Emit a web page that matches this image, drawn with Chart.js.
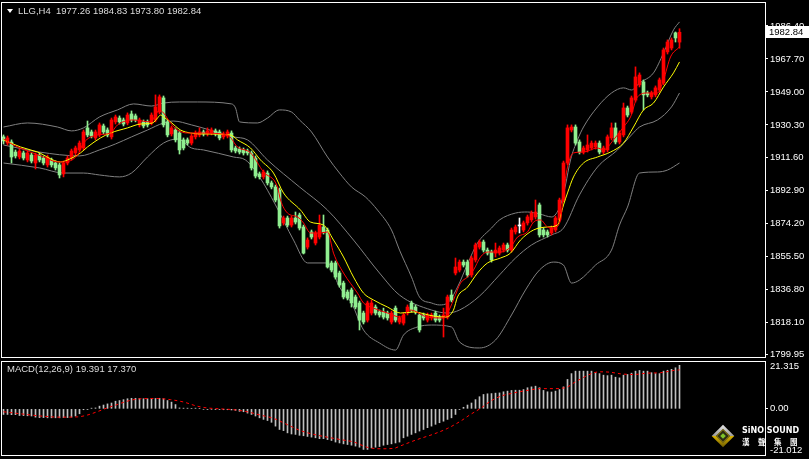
<!DOCTYPE html>
<html>
<head>
<meta charset="utf-8">
<script src="https://cdn.jsdelivr.net/npm/chart.js@4.4.1/dist/chart.umd.min.js"></script>
<style>
  html, body { margin: 0; padding: 0; background: #000; }
  #wrap { position: relative; width: 809px; height: 459px; background: #000; overflow: hidden;
          font-family: "Liberation Sans", Arial, sans-serif; }
  #priceChart { position: absolute; left: 0; top: 0; }
  #macdChart { position: absolute; left: 0; top: 359px; }
  .caption { position: absolute; color: #dcdcdc; font-size: 9.5px; line-height: 12px; white-space: pre; }
  #tri { position: absolute; left: 7px; top: 9px; width: 0; height: 0;
         border-left: 3px solid transparent; border-right: 3px solid transparent; border-top: 4px solid #fff; }
  .dia { position: absolute; transform: rotate(45deg); }
  #diaOuter { left: 715px; top: 428px; width: 16px; height: 16px;
              background: linear-gradient(135deg, #e6e6e6 0%, #9a9a9a 50%, #d9b200 50%, #6b5a00 100%); }
  #diaInner { left: 718px; top: 431px; width: 10px; height: 10px; background: #2b2b12; border: 1px solid #8a7a10; box-sizing: border-box; }
  #diaCore { left: 721px; top: 434px; width: 4px; height: 4px; background: #7fc32a; }
  #brand { position: absolute; left: 742px; top: 426px; color: #fff; font: bold 8px "DejaVu Sans", Arial, sans-serif; }
  #brandCn { position: absolute; left: 742px; top: 436px; color: #fff; font: bold 7.5px "Noto Sans CJK TC", sans-serif; letter-spacing: 8.5px; }
</style>
</head>
<body>
<div id="wrap">
  <canvas id="priceChart" width="809" height="359"></canvas>
  <canvas id="macdChart" width="809" height="100"></canvas>
  <div id="tri"></div>
  <div class="caption" style="left:18px; top:5px;">LLG,H4  1977.26 1984.83 1973.80 1982.84</div>
  <div class="caption" style="left:7px; top:363px;">MACD(12,26,9) 19.391 17.370</div>
  <div id="diaOuter" class="dia"></div>
  <div id="diaInner" class="dia"></div>
  <div id="diaCore" class="dia"></div>
  <div id="brand">SiNO SOUND</div>
  <div id="brandCn">漢聲集團</div>
</div>
<script>
// H4 candles, oldest first
const candleOpen = [
  1923.5, 1920.0, 1920.6, 1914.9, 1912.1, 1914.4, 1910.4, 1913.2, 1908.7, 1913.2,
  1911.5, 1907.6, 1910.4, 1908.7, 1907.6, 1902.5, 1908.7, 1911.5, 1914.4, 1916.1,
  1917.2, 1928.6, 1926.3, 1922.9, 1924.6, 1929.7, 1927.4, 1923.5, 1932.0, 1934.2,
  1933.1, 1931.4, 1936.5, 1935.4, 1930.3, 1932.0, 1932.0, 1931.4, 1933.1, 1937.6,
  1945.6, 1932.0, 1925.2, 1927.4, 1925.7, 1921.8, 1921.8, 1920.0, 1923.5, 1924.6,
  1926.3, 1925.2, 1925.7, 1926.9, 1926.3, 1923.5, 1924.0, 1925.7, 1917.2, 1916.6,
  1916.1, 1915.5, 1914.4, 1911.5, 1902.5, 1900.8, 1903.0, 1897.4, 1895.1, 1893.4,
  1874.7, 1877.5, 1873.5, 1877.5, 1879.2, 1872.4, 1861.0, 1869.6, 1863.3, 1866.7,
  1872.4, 1870.7, 1852.0, 1852.0, 1846.3, 1840.6, 1835.5, 1836.7, 1832.7, 1829.3,
  1823.6, 1819.6, 1823.6, 1827.0, 1824.2, 1824.2, 1823.6, 1818.5, 1826.4, 1818.5,
  1817.9, 1823.6, 1829.3, 1827.0, 1822.5, 1822.5, 1819.6, 1820.8, 1823.6, 1821.3,
  1820.8, 1821.3, 1833.8, 1846.3, 1848.0, 1852.5, 1852.5, 1845.2, 1853.7, 1861.0,
  1863.9, 1859.3, 1858.2, 1857.6, 1857.6, 1859.3, 1862.2, 1859.3, 1869.6, 1873.0,
  1870.7, 1874.7, 1876.4, 1878.1, 1884.9, 1870.7, 1869.6, 1869.0, 1870.7, 1876.4,
  1887.7, 1908.7, 1927.4, 1929.1, 1920.6, 1914.9, 1916.1, 1917.2, 1917.8, 1920.0,
  1914.9, 1916.1, 1922.9, 1928.6, 1920.6, 1924.6, 1939.9, 1937.6, 1944.4, 1953.0,
  1954.7, 1948.4, 1946.2, 1947.3, 1950.1, 1954.1, 1971.7, 1973.9, 1982.5, 1977.26
];
const candleHigh = [
  1924.6, 1924.0, 1921.8, 1916.1, 1916.6, 1915.5, 1915.5, 1914.4, 1914.4, 1914.4,
  1912.7, 1913.2, 1911.5, 1909.8, 1908.7, 1909.8, 1912.7, 1916.6, 1918.3, 1921.2,
  1927.4, 1932.5, 1927.4, 1927.4, 1931.4, 1930.8, 1928.6, 1934.2, 1935.9, 1935.4,
  1934.2, 1937.1, 1938.2, 1936.5, 1934.2, 1933.1, 1933.1, 1937.1, 1947.3, 1947.3,
  1946.7, 1933.1, 1929.7, 1928.6, 1926.9, 1922.9, 1922.9, 1925.2, 1926.9, 1928.6,
  1927.4, 1928.6, 1928.6, 1928.0, 1927.4, 1926.3, 1927.4, 1926.9, 1918.3, 1917.8,
  1917.2, 1916.6, 1915.5, 1912.7, 1903.6, 1904.7, 1904.2, 1898.5, 1896.2, 1894.5,
  1878.6, 1878.6, 1878.6, 1880.9, 1880.3, 1873.5, 1866.2, 1870.7, 1870.1, 1879.2,
  1879.2, 1871.8, 1853.1, 1853.1, 1847.4, 1841.7, 1836.7, 1837.8, 1833.8, 1830.4,
  1824.7, 1830.4, 1831.0, 1828.2, 1825.3, 1826.4, 1824.7, 1824.7, 1827.6, 1821.9,
  1823.6, 1828.2, 1830.4, 1828.2, 1823.6, 1823.6, 1823.6, 1823.6, 1824.7, 1822.5,
  1826.4, 1833.8, 1836.7, 1854.8, 1853.7, 1853.7, 1853.7, 1855.9, 1863.3, 1865.0,
  1865.0, 1860.5, 1859.3, 1863.3, 1861.6, 1863.3, 1863.3, 1871.8, 1873.5, 1877.5,
  1875.8, 1879.2, 1881.5, 1887.7, 1886.0, 1871.8, 1870.7, 1873.0, 1878.6, 1888.8,
  1909.8, 1930.3, 1930.3, 1930.3, 1921.8, 1918.3, 1924.6, 1921.2, 1921.2, 1921.2,
  1918.3, 1924.6, 1931.4, 1931.4, 1926.9, 1942.7, 1941.0, 1946.7, 1963.2, 1959.8,
  1955.8, 1949.5, 1949.5, 1952.4, 1956.9, 1973.9, 1978.5, 1979.6, 1983.0, 1984.83
];
const candleLow = [
  1919.5, 1918.9, 1908.7, 1911.5, 1911.0, 1910.4, 1909.3, 1908.7, 1905.3, 1909.3,
  1907.6, 1906.4, 1906.4, 1904.7, 1900.2, 1900.8, 1907.6, 1910.4, 1913.2, 1914.9,
  1916.1, 1923.5, 1922.9, 1921.8, 1923.5, 1925.2, 1923.5, 1922.3, 1930.8, 1930.8,
  1929.7, 1930.3, 1932.0, 1932.0, 1929.1, 1928.6, 1929.1, 1930.3, 1932.0, 1936.5,
  1929.1, 1923.5, 1924.0, 1920.6, 1913.8, 1916.1, 1918.9, 1918.9, 1922.3, 1923.5,
  1924.0, 1924.0, 1924.6, 1924.0, 1921.8, 1922.3, 1922.9, 1914.9, 1914.4, 1913.8,
  1913.2, 1913.2, 1904.7, 1900.2, 1899.6, 1899.6, 1896.2, 1894.0, 1886.6, 1871.8,
  1873.5, 1872.4, 1872.4, 1874.1, 1870.7, 1857.1, 1859.9, 1865.6, 1862.2, 1865.6,
  1868.4, 1849.1, 1846.9, 1842.9, 1838.3, 1831.6, 1831.0, 1827.0, 1825.9, 1814.0,
  1817.4, 1818.5, 1822.5, 1822.5, 1821.3, 1820.2, 1819.6, 1817.4, 1818.5, 1817.4,
  1816.8, 1822.5, 1824.2, 1823.0, 1812.8, 1819.6, 1818.5, 1819.6, 1818.5, 1818.5,
  1810.0, 1820.2, 1829.9, 1845.2, 1846.9, 1849.7, 1844.0, 1844.0, 1852.5, 1859.9,
  1858.2, 1856.5, 1852.5, 1855.4, 1856.5, 1858.2, 1858.2, 1858.2, 1868.4, 1869.0,
  1869.6, 1873.5, 1875.2, 1876.9, 1866.7, 1866.7, 1866.7, 1867.9, 1869.6, 1875.2,
  1886.6, 1907.6, 1926.3, 1918.9, 1913.8, 1913.8, 1914.9, 1916.1, 1916.6, 1913.8,
  1913.8, 1914.9, 1921.8, 1919.5, 1919.5, 1923.5, 1934.8, 1936.5, 1943.3, 1951.8,
  1938.8, 1946.2, 1945.0, 1946.2, 1949.0, 1953.0, 1970.5, 1972.8, 1977.3, 1973.80
];
const candleClose = [
  1921.2, 1922.9, 1912.1, 1912.7, 1915.5, 1911.5, 1914.4, 1909.8, 1913.2, 1910.4,
  1908.7, 1912.1, 1907.6, 1905.9, 1901.9, 1908.7, 1911.5, 1915.5, 1917.2, 1920.0,
  1926.3, 1924.6, 1924.0, 1926.3, 1930.3, 1926.3, 1924.6, 1933.1, 1934.8, 1932.0,
  1930.8, 1935.9, 1933.1, 1933.1, 1933.1, 1929.7, 1930.3, 1935.9, 1940.5, 1946.2,
  1930.3, 1924.6, 1928.6, 1921.8, 1916.1, 1917.2, 1920.0, 1924.0, 1925.7, 1926.3,
  1925.2, 1926.9, 1927.4, 1925.2, 1922.9, 1925.2, 1926.3, 1916.1, 1915.5, 1914.9,
  1914.4, 1914.4, 1905.9, 1901.3, 1900.8, 1903.6, 1897.4, 1895.1, 1887.7, 1873.0,
  1877.5, 1873.5, 1877.5, 1875.2, 1871.8, 1857.6, 1865.0, 1866.7, 1869.0, 1873.5,
  1869.6, 1849.7, 1848.0, 1844.0, 1839.5, 1832.7, 1832.1, 1829.3, 1827.0, 1819.6,
  1818.5, 1829.3, 1829.3, 1823.6, 1822.5, 1821.3, 1820.8, 1823.6, 1819.6, 1820.8,
  1822.5, 1827.0, 1825.3, 1824.2, 1814.0, 1820.8, 1822.5, 1822.5, 1819.6, 1819.6,
  1822.5, 1832.7, 1831.0, 1849.7, 1852.5, 1850.8, 1845.2, 1854.8, 1862.2, 1863.9,
  1859.3, 1857.6, 1853.7, 1859.3, 1860.5, 1862.2, 1859.3, 1870.7, 1872.4, 1873.0,
  1874.7, 1878.1, 1880.3, 1880.9, 1867.9, 1867.9, 1867.9, 1871.8, 1877.5, 1887.7,
  1908.7, 1928.6, 1929.1, 1920.0, 1914.9, 1917.2, 1918.9, 1920.0, 1920.0, 1914.9,
  1917.2, 1923.5, 1928.6, 1920.6, 1925.7, 1939.9, 1935.9, 1945.6, 1957.5, 1958.6,
  1947.3, 1947.3, 1948.4, 1951.3, 1955.8, 1972.8, 1977.3, 1978.5, 1979.6, 1982.84
];

// indicator lines: [bar index, price]
const maFast = [
  [0, 1922.3], [2.5, 1918.9], [6.75, 1914.9], [10, 1912.1], [13.5, 1909.3], [15, 1909.3], [18.5, 1913.2],
  [20, 1920.0], [23.5, 1924.6], [26.75, 1925.7], [28.5, 1930.3], [32.5, 1933.1], [36.75, 1932.0], [38, 1935.9],
  [39, 1938.8], [40, 1937.1], [41.75, 1931.4], [43.5, 1927.4], [46, 1925.7], [49.25, 1925.7], [56, 1924.6],
  [58.5, 1917.8], [61.75, 1914.4], [65, 1903.6], [68.5, 1895.1], [69.25, 1887.7], [71, 1880.3], [73.5, 1878.1],
  [75, 1874.7], [76.75, 1869.0], [79.25, 1869.0], [81, 1869.6], [82.5, 1857.6], [85, 1846.3], [88.5, 1834.9],
  [90, 1829.3], [92.5, 1826.4], [96, 1823.6], [99.25, 1821.3], [101.75, 1825.3], [106, 1821.3], [110, 1820.8],
  [111, 1823.6], [112.5, 1831.0], [114.25, 1840.6], [116, 1844.0], [117.5, 1848.0], [119.25, 1855.4],
  [121, 1858.2], [124.25, 1858.2], [126.75, 1861.0], [128.5, 1866.7], [131, 1869.6], [132.5, 1875.2],
  [134.25, 1876.4], [136, 1872.4], [137.5, 1871.8], [139.25, 1876.4], [140, 1891.7], [141, 1906.4],
  [142.5, 1914.4], [145, 1914.9], [148.5, 1917.2], [150, 1916.1], [152.5, 1921.8], [155, 1929.1],
  [156.75, 1934.8], [158.5, 1946.2], [161, 1948.4], [163.5, 1948.4], [165, 1955.8], [166.75, 1968.8], [169, 1974.5]
];
const maSlow = [
  [0, 1921.8], [4.25, 1917.8], [8.5, 1914.9], [14.25, 1909.3], [16, 1910.4], [19.25, 1914.4], [21, 1917.8],
  [24.25, 1922.9], [26.75, 1925.7], [31, 1928.6], [34.25, 1930.8], [37.25, 1931.4], [38.5, 1934.2],
  [39.25, 1935.9], [40, 1934.8], [41.75, 1932.0], [44.25, 1927.4], [46.75, 1925.7], [49.25, 1925.2],
  [56.75, 1924.6], [58.5, 1921.8], [61.75, 1917.2], [64.25, 1910.4], [67.5, 1903.0], [70, 1891.7],
  [74.25, 1882.0], [76.75, 1875.2], [80, 1873.5], [82.5, 1865.0], [85, 1855.4], [87.5, 1844.0], [90, 1834.9],
  [92.5, 1831.0], [96, 1827.0], [99.25, 1823.6], [102.5, 1824.2], [107.5, 1821.9], [110.5, 1821.3],
  [112.5, 1825.3], [113.5, 1832.7], [116, 1838.3], [118.5, 1846.3], [121, 1852.0], [124.25, 1854.8],
  [126.75, 1857.6], [129.25, 1865.0], [132.5, 1870.7], [136, 1872.4], [138.5, 1873.5], [140, 1884.9],
  [141, 1891.7], [142.5, 1900.8], [145, 1908.7], [148.5, 1912.1], [151.75, 1914.9], [155, 1920.0],
  [157.5, 1929.1], [160, 1938.8], [162.5, 1942.7], [165, 1951.8], [167.5, 1959.8], [169, 1966.0]
];
const bbUpper = [
  [0, 1929.1], [6, 1931.4], [13.5, 1929.1], [17, 1926.9], [20, 1928.6], [24, 1934.8], [28.5, 1938.8],
  [32.5, 1942.2], [37, 1941.0], [40, 1942.7], [44, 1943.3], [48.5, 1943.3], [57, 1942.2], [58, 1939.9],
  [59, 1932.0], [63.5, 1931.4], [66, 1934.2], [69, 1938.8], [72, 1937.6], [74, 1933.1], [77, 1926.3],
  [81, 1912.1], [84, 1903.0], [87, 1895.1], [90.5, 1889.4], [93.5, 1882.0], [97, 1870.7], [99, 1859.3],
  [102, 1844.0], [104, 1832.7], [107, 1829.3], [109, 1828.2], [111, 1829.3], [113.5, 1838.3], [116, 1851.4],
  [118.5, 1863.3], [122, 1871.8], [124, 1876.4], [128, 1880.3], [131, 1880.9], [134, 1879.8], [137, 1878.1],
  [139.25, 1884.9], [140.5, 1896.2], [141.75, 1910.4], [143.5, 1921.8], [145, 1929.1], [148.5, 1940.5],
  [152, 1948.4], [155, 1951.3], [157, 1950.1], [159, 1954.1], [162.5, 1959.8], [165, 1971.1], [167.5, 1984.2],
  [169, 1988.7]
];
const bbMiddle = [
  [0, 1918.9], [9, 1914.9], [19, 1912.7], [24, 1916.1], [28, 1919.5], [32, 1923.5], [36, 1927.4], [40, 1931.4],
  [42.5, 1932.5], [47, 1930.3], [49, 1929.1], [57.5, 1923.5], [61, 1921.8], [66, 1910.4], [74, 1895.1],
  [81, 1882.0], [87.5, 1865.0], [94, 1846.3], [99, 1833.8], [107, 1825.3], [111, 1823.6], [114, 1825.3],
  [119, 1833.2], [124, 1845.2], [128, 1854.8], [132, 1862.2], [137, 1867.9], [140, 1871.8], [144, 1890.6],
  [148.5, 1906.4], [153.5, 1916.1], [157, 1924.6], [159, 1929.1], [163.5, 1933.1], [167, 1940.5], [169, 1948.4]
];
const bbLower = [
  [0, 1908.7], [9, 1905.9], [15, 1903.0], [20, 1903.0], [24, 1901.9], [29, 1900.8], [32, 1903.0], [36, 1912.1],
  [40, 1920.0], [43.5, 1922.3], [47, 1917.2], [50, 1916.1], [57.5, 1912.1], [60.5, 1910.4], [64, 1900.8],
  [68, 1884.9], [72.5, 1865.0], [76, 1852.0], [81, 1852.0], [84, 1838.3], [87, 1829.3], [90, 1814.0],
  [94, 1806.6], [98, 1802.6], [100, 1811.1], [103.5, 1815.7], [107, 1816.8], [112, 1815.7], [114, 1807.2],
  [119, 1803.8], [123, 1808.3], [127, 1822.5], [130.5, 1836.7], [134, 1848.0], [137.5, 1852.5], [140, 1850.8],
  [142, 1840.6], [144, 1842.3], [148, 1850.8], [152, 1859.3], [154, 1873.5], [156, 1883.7], [159, 1903.0],
  [163.5, 1903.6], [166, 1904.7], [169, 1908.7]
];

// MACD(12,26,9): histogram per bar, signal line read at points
const macdHist = [
  -2.5, -2.5, -2.6, -2.6, -3.0, -3.0, -3.1, -3.2, -3.7, -3.9,
  -3.9, -4.0, -4.0, -4.0, -4.0, -3.9, -3.9, -3.7, -3.2, -2.2,
  -0.4, -0.3, 0.3, 0.4, 1.2, 1.7, 2.2, 2.6, 3.4, 3.7,
  4.1, 4.5, 4.7, 4.7, 4.6, 4.5, 4.5, 4.5, 4.6, 4.7,
  4.5, 3.7, 3.0, 1.9, 0.4, 0.3, 0.3, 0.2, 0.3, 0.2,
  -0.2, -0.3, -0.2, -0.3, -0.3, -0.4, -0.4, -0.5, -0.7, -1.1,
  -1.3, -1.9, -2.5, -3.2, -4.0, -4.7, -5.2, -6.0, -7.7, -9.2,
  -9.7, -10.7, -11.2, -11.4, -11.8, -12.0, -12.3, -12.6, -12.9, -13.3,
  -13.3, -13.7, -14.1, -14.8, -15.2, -15.6, -15.9, -16.2, -16.6, -17.1,
  -18.1, -18.1, -17.4, -17.1, -16.8, -16.2, -15.9, -15.6, -15.2, -14.8,
  -12.9, -12.2, -11.4, -10.7, -9.9, -9.2, -8.4, -7.7, -6.9, -6.2,
  -5.5, -4.7, -4.0, -2.5, -0.3, 0.7, 1.7, 2.6, 4.1, 5.4,
  6.4, 6.7, 6.8, 7.0, 7.1, 7.6, 7.9, 8.2, 8.3, 8.3,
  8.6, 9.4, 9.8, 10.1, 9.4, 8.2, 7.6, 7.5, 7.9, 8.6,
  9.8, 13.1, 15.7, 16.8, 16.8, 16.8, 16.8, 16.8, 16.1, 15.7,
  15.0, 14.8, 15.0, 14.1, 13.8, 15.0, 15.3, 15.9, 16.8, 17.1,
  16.8, 16.8, 16.1, 15.7, 15.7, 16.8, 17.2, 17.6, 18.3, 19.391
];
const macdSignal = [
  [0, -1.3], [4.25, -2.2], [9.25, -3.2], [14.25, -3.7], [18.4, -3.6], [20.9, -2.8], [23.4, -1.3], [25.9, 0.4],
  [28.4, 1.9], [30.9, 3.4], [34.25, 4.5], [38.4, 4.6], [41.75, 4.1], [45.1, 3.0], [48.4, 1.2], [50.9, 0.4],
  [54.25, 0], [57.6, -0.4], [60.9, -1.3], [64.25, -2.8], [67.6, -4.3], [70.9, -7.0], [74.25, -9.7],
  [77.6, -11.4], [80.9, -12.6], [84.25, -13.7], [87.6, -14.8], [90.9, -17.1], [94.25, -17.8], [97.6, -17.6],
  [99.25, -16.5], [103.4, -13.7], [107.6, -11.2], [110.9, -8.8], [114.25, -5.5], [116.75, -2.5], [119.25, 0.2],
  [121.75, 3.4], [124.25, 5.6], [127.6, 7.1], [130.9, 8.2], [134.25, 9.0], [137.6, 9.0], [140.9, 9.7],
  [142.6, 11.6], [145.1, 14.1], [147.6, 16.1], [149.25, 16.5], [151.75, 16.3], [154.25, 15.6], [157.6, 15.3],
  [160.9, 15.9], [164.25, 16.1], [167.6, 17.1], [169, 17.37]
];

const priceTicks = [1986.40, 1967.70, 1949.00, 1930.30, 1911.60, 1892.90, 1874.20, 1855.50, 1836.80, 1818.10, 1799.95];
const macdTicks = [21.315, 0, -21.012];
const macdTickLabels = ['21.315', '0.00', '-21.012'];

const axisFont = { family: '"Liberation Sans", Arial, sans-serif', size: 9.5 };

function toPoints(pairs) {
    return pairs.map(p => ({ x: p[0], y: p[1] }));
}

function candleColor(i) {
    if (candleClose[i] > candleOpen[i]) return '#ff0000';
    if (candleClose[i] < candleOpen[i]) return '#90ee90';
    return '#ffffff';
}

const candleColors = candleOpen.map((_, i) => candleColor(i));
const bodies = candleOpen.map((o, i) => ({ x: i, y: [o, candleClose[i]] }));
const wicks = candleLow.map((l, i) => ({ x: i, y: [l, candleHigh[i]] }));

// white frame round each panel
const framePlugin = {
    id: 'frame',
    afterDraw(chart) {
        const a = chart.chartArea;
        const ctx = chart.ctx;
        ctx.save();
        ctx.strokeStyle = '#ffffff';
        ctx.lineWidth = 1;
        ctx.strokeRect(a.left + 0.5, a.top + 0.5, a.right - a.left, a.bottom - a.top - 1);
        ctx.restore();
    }
};

// last price tag on the right axis
const priceTagPlugin = {
    id: 'priceTag',
    afterDraw(chart) {
        const last = candleClose[candleClose.length - 1];
        const y = Math.round(chart.scales.y.getPixelForValue(last));
        const ctx = chart.ctx;
        ctx.save();
        ctx.fillStyle = '#ffffff';
        ctx.fillRect(766, y - 6, 43, 12);
        ctx.fillStyle = '#000000';
        ctx.font = axisFont.size + 'px ' + axisFont.family;
        ctx.textBaseline = 'middle';
        ctx.fillText(last.toFixed(2), 769, y + 0.5);
        ctx.restore();
    }
};

function lineSet(label, pairs, color, extra) {
    return Object.assign({
        type: 'line',
        label: label,
        data: toPoints(pairs),
        borderColor: color,
        borderWidth: 1,
        pointRadius: 0,
        fill: false,
        cubicInterpolationMode: 'monotone',
        order: 1
    }, extra || {});
}

function rightAxis(min, max, ticks, labelFn, tickColor) {
    return {
        position: 'right',
        min: min,
        max: max,
        afterBuildTicks(scale) {
            scale.ticks = ticks.map(v => ({ value: v }));
        },
        afterFit(scale) {
            scale.width = 44;
            scale.paddingTop = 0;
            scale.paddingBottom = 0;
        },
        grid: { drawOnChartArea: false, color: tickColor, tickLength: 3 },
        border: { display: false },
        ticks: { color: '#ffffff', padding: 2, font: axisFont, callback: labelFn }
    };
}

document.addEventListener('DOMContentLoaded', function () {
    new Chart(document.getElementById('priceChart'), {
        type: 'bar',
        data: {
            datasets: [
                lineSet('BB upper', bbUpper, '#808080', { order: 4 }),
                lineSet('BB middle', bbMiddle, '#808080', { order: 4 }),
                lineSet('BB lower', bbLower, '#808080', { order: 4 }),
                lineSet('MA slow', maSlow, '#ffff00'),
                lineSet('MA fast', maFast, '#ff0000', { order: 0 }),
                { label: 'wick', data: wicks, backgroundColor: candleColors, barThickness: 1, grouped: false, order: 3 },
                { label: 'body', data: bodies, backgroundColor: candleColors, barThickness: 3, grouped: false, minBarLength: 1, order: 2 }
            ]
        },
        options: {
            responsive: false,
            animation: false,
            events: [],
            layout: { padding: { left: 1, top: 2, bottom: 1, right: 0 } },
            plugins: { legend: { display: false }, tooltip: { enabled: false } },
            scales: {
                x: { type: 'linear', min: -0.625, max: 190.375, offset: false, display: false },
                y: rightAxis(1798.1, 2000.0, priceTicks, v => Number(v).toFixed(2), '#ffffff')
            }
        },
        plugins: [framePlugin, priceTagPlugin]
    });

    new Chart(document.getElementById('macdChart'), {
        type: 'bar',
        data: {
            datasets: [
                lineSet('Signal', macdSignal, '#ff0000', { borderDash: [3, 3], order: 0 }),
                { label: 'MACD', data: macdHist.map((v, i) => ({ x: i, y: v })), backgroundColor: '#c0c0c0', barThickness: 1, grouped: false, order: 2 }
            ]
        },
        options: {
            responsive: false,
            animation: false,
            events: [],
            layout: { padding: { left: 1, top: 2, bottom: 3, right: 0 } },
            plugins: { legend: { display: false }, tooltip: { enabled: false } },
            scales: {
                x: { type: 'linear', min: -0.625, max: 190.375, offset: false, display: false },
                y: rightAxis(-21.012, 21.315, macdTicks, (v, i) => {
                    const text = macdTickLabels[i];
                    if (i === 0) return ['', text];
                    if (i === macdTicks.length - 1) return [text, ''];
                    return text;
                }, ctx => (ctx.tick && ctx.tick.value === 0) ? '#ffffff' : 'rgba(0,0,0,0)')
            }
        },
        plugins: [framePlugin]
    });
});
</script>
</body>
</html>
